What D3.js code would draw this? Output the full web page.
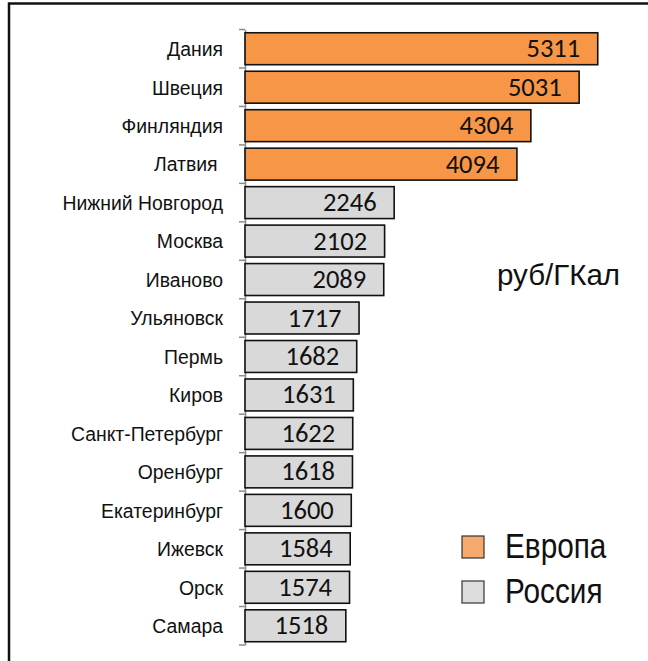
<!DOCTYPE html>
<html><head><meta charset="utf-8">
<script src="https://cdn.jsdelivr.net/npm/d3@7"></script>
<style>body{margin:0;background:#fff}svg{display:block}</style>
</head><body>
<svg id="c" width="648" height="661"></svg>
<script>
const categories = ["Дания","Швеция","Финляндия","Латвия ","Нижний Новгород","Москва","Иваново","Ульяновск","Пермь","Киров","Санкт-Петербург","Оренбург","Екатеринбург","Ижевск","Орск","Самара"];
const values = [5311,5031,4304,4094,2246,2102,2089,1717,1682,1631,1622,1618,1600,1584,1574,1518];
const groups = ["Европа","Европа","Европа","Европа","Россия","Россия","Россия","Россия","Россия","Россия","Россия","Россия","Россия","Россия","Россия","Россия"];
const seriesNames = ["Европа","Россия"];
const unitLabel = "руб/ГКал";

const svg = d3.select("#c");
const colors = {"Европа":"#F79646","Россия":"#D9D9D9"};
const legendColors = {"Европа":"#F6A96C","Россия":"#DCDCDC"};

// frame
svg.append("rect").attr("x",9).attr("y",3.5).attr("width",800).attr("height",800)
  .attr("fill","none").attr("stroke","#111").attr("stroke-width",2.5);

const x = d3.scaleLinear().domain([0,6000]).range([245,643.5]);
const y = d3.scaleBand().domain(categories).range([29.5,645]).paddingInner(0.17).paddingOuter(0.085);

// axis
const ax = d3.axisLeft(y).tickSize(0).tickFormat("");
const axisG = svg.append("g").attr("transform","translate(245,0)").call(ax);
axisG.select(".domain").attr("stroke","#8c8c8c").attr("stroke-width",1.5);
// boundary ticks
const bounds = d3.range(categories.length+1).map(i => 29.5 + i*(645-29.5)/categories.length);
svg.append("g").selectAll("line").data(bounds).join("line")
  .attr("x1",239).attr("x2",245).attr("y1",d=>d).attr("y2",d=>d)
  .attr("stroke","#8c8c8c").attr("stroke-width",1.5);

// bars
svg.append("g").selectAll("rect").data(categories).join("rect")
  .attr("x",x(0)).attr("y",(d)=>y(d))
  .attr("width",(d,i)=>x(values[i])-x(0)).attr("height",y.bandwidth())
  .attr("fill",(d,i)=>colors[groups[i]]).attr("stroke","#111").attr("stroke-width",1.6);

// value labels
svg.append("g").selectAll("text").data(categories).join("text")
  .attr("x",(d,i)=>x(values[i])-17.5).attr("y",d=>y(d)+y.bandwidth()/2+8.5)
  .attr("text-anchor","end").attr("font-family","Carlito, Lato, sans-serif").attr("font-size",26.5)
  .attr("fill","#111").text((d,i)=>values[i]);

// category labels
svg.append("g").selectAll("text").data(categories).join("text")
  .attr("x",223).attr("y",d=>y(d)+y.bandwidth()/2+7.3)
  .attr("text-anchor","end").attr("font-family","'Liberation Sans', Arial, sans-serif").attr("font-size",19.4)
  .style("white-space","pre").attr("fill","#111").text(d=>d);

// unit label
svg.append("text").attr("x",497).attr("y",285).attr("font-family","'Liberation Sans', Arial, sans-serif")
  .attr("font-size",29.5).attr("fill","#111").text(unitLabel);

// legend
const lg = svg.append("g").selectAll("g").data(seriesNames).join("g")
  .attr("transform",(d,i)=>`translate(462,${536+i*45})`);
lg.append("rect").attr("width",22).attr("height",22).attr("fill",d=>legendColors[d])
  .attr("stroke","#333").attr("stroke-width",1.2);
lg.append("text").attr("transform","translate(43,22) scale(0.85,1)")
  .attr("font-family","'Liberation Sans', Arial, sans-serif")
  .attr("font-size",35).attr("fill","#111").text(d=>d);
</script>
</body></html>
